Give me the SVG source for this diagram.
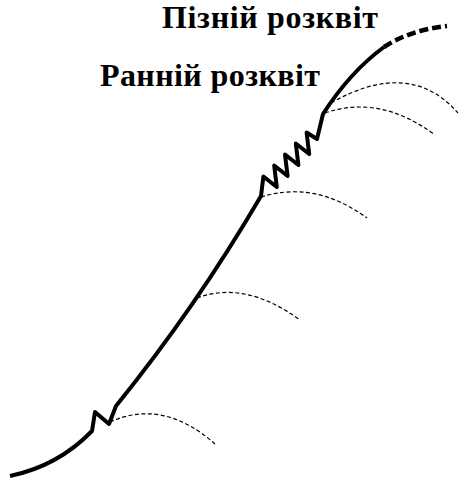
<svg xmlns="http://www.w3.org/2000/svg" width="459" height="481" viewBox="0 0 459 481">
<style>
.main{fill:none;stroke:#000;stroke-width:4;stroke-linejoin:round}
.thickdash{fill:none;stroke:#000;stroke-width:4.5;stroke-dasharray:9 4}
.arc{fill:none;stroke:#000;stroke-width:1.2;stroke-dasharray:4 2.5}
.lbl{font-family:"Liberation Serif","DejaVu Serif",serif;font-weight:bold;font-size:32px;fill:#000}
</style>
<rect width="459" height="481" fill="#fff"/>
<g id="labels">
<text id="late" class="lbl" x="162" y="28" textLength="216" lengthAdjust="spacing">Пізній розквіт</text>
<text id="early" class="lbl" x="100" y="86" textLength="220" lengthAdjust="spacing">Ранній розквіт</text>
</g>
<g id="connectors">
<path class="main" d="M10,476 Q58,466 92,431 L95,412 L109,424 L116,406 Q196,307 261,196 L263.4,176.5 L276.8,187 L274.2,165.5 L287.6,176 L285,154.5 L298.4,165 L295.8,143.5 L309.2,154 L306.6,132.5 L317,139 L323,114 Q350,72 384,47"/>
<path class="thickdash" d="M384,47 Q410,30 447,26"/>
<path class="arc" d="M110,422 Q163,398 215,444"/>
<path class="arc" d="M197,298 Q245,280 300,320"/>
<path class="arc" d="M261,197 Q315,180 367,218"/>
<path class="arc" d="M325,113 Q380,94 435,135"/>
<path class="arc" d="M331,103 Q410,58 458,113"/>
</g>
</svg>
